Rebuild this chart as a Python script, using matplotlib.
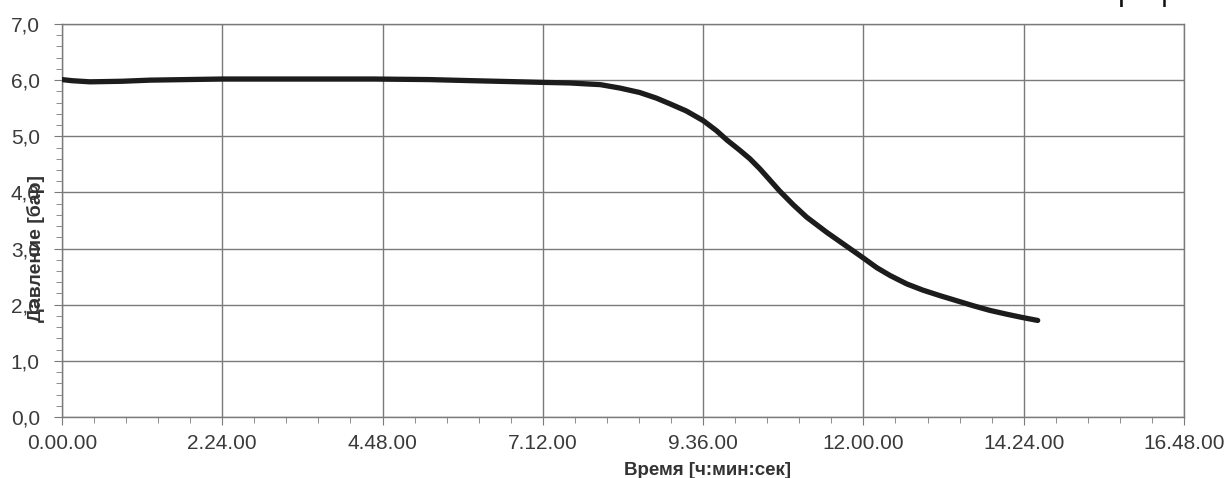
import numpy as np
import matplotlib
matplotlib.use("Agg")
import matplotlib.pyplot as plt
from matplotlib.ticker import MultipleLocator

plt.rcParams["font.family"] = ["Liberation Sans", "DejaVu Sans"]

# time in hours, pressure in bar
time_h = [0, 0.15, 0.42, 0.9, 1.32, 2.4, 3.5, 4.66, 5.5, 6.15, 6.86, 7.2,
          7.6, 7.9, 8.06, 8.35, 8.65, 8.9, 9.1, 9.35, 9.6, 9.8, 9.96, 10.15,
          10.3, 10.45, 10.6, 10.75, 10.95, 11.15, 11.45, 11.75, 11.99, 12.2,
          12.4, 12.65, 12.89, 13.15, 13.4, 13.65, 13.89, 14.15, 14.39, 14.61]
pressure = [6.01, 5.99, 5.97, 5.98, 6.0, 6.02, 6.02, 6.02, 6.01, 5.99, 5.97,
            5.96, 5.95, 5.93, 5.92, 5.86, 5.78, 5.68, 5.58, 5.45, 5.28, 5.1,
            4.93, 4.75, 4.6, 4.42, 4.22, 4.02, 3.78, 3.56, 3.29, 3.04, 2.84,
            2.66, 2.52, 2.37, 2.26, 2.16, 2.07, 1.98, 1.9, 1.83, 1.77, 1.72]

x_ticks = [0, 2.4, 4.8, 7.2, 9.6, 12.0, 14.4, 16.8]
x_labels = ["0.00.00", "2.24.00", "4.48.00", "7.12.00", "9.36.00",
            "12.00.00", "14.24.00", "16.48.00"]
y_ticks = [0, 1, 2, 3, 4, 5, 6, 7]
y_labels = ["0,0", "1,0", "2,0", "3,0", "4,0", "5,0", "6,0", "7,0"]

fig = plt.figure(figsize=(12.25, 4.78), dpi=100)
ax = fig.add_axes([0.0506, 0.1276, 0.9159, 0.8222])

ax.plot(time_h, pressure, color="#1c1c1c", lw=3.8, solid_capstyle="round",
        solid_joinstyle="round", zorder=3)

ax.set_xlim(0, 16.8)
ax.set_ylim(0, 7)
ax.set_xticks(x_ticks)
ax.set_xticklabels(x_labels)
ax.set_yticks(y_ticks)
ax.set_yticklabels(y_labels)
ax.xaxis.set_minor_locator(MultipleLocator(0.48))
ax.yaxis.set_minor_locator(MultipleLocator(0.2))

ax.grid(True, which="major", color="#7a7a7a", lw=1.0)
for s in ax.spines.values():
    s.set_color("#7a7a7a")
    s.set_linewidth(1.0)

ax.tick_params(which="major", length=6, color="#7a7a7a", labelsize=15,
               labelcolor="#3a3a3a")
ax.tick_params(which="minor", length=4, color="#7a7a7a")
ax.tick_params(axis="y", pad=10)
ax.tick_params(axis="x", pad=6)

ax.set_xlabel("Время [ч:мин:сек]", fontsize=13.5, fontweight="bold",
              color="#333333")
ax.xaxis.set_label_coords(0.575, -0.115)
ax.set_ylabel("Давление [бар]", fontsize=14, fontweight="bold",
              color="#333333")
ax.yaxis.set_label_coords(-0.0155, 0.43)

# title cut off at the top edge of the scan, only descenders remain
fig.text(0.945, 1.0, "график", fontsize=22, ha="center", va="baseline",
         color="#111111")

fig.savefig("out.png", dpi=100)
